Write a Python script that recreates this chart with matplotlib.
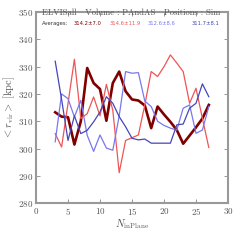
import numpy as np
import matplotlib
matplotlib.use("Agg")
import matplotlib.pyplot as plt

plt.rcParams["font.family"] = "cmr10"
plt.rcParams["mathtext.fontset"] = "cm"
plt.rcParams["axes.formatter.use_mathtext"] = True

# N_inPlane values
n_in_plane = list(range(3, 28))

# mean r_vir per N_inPlane (kpc)
r_dark_red = [313.3, 311.7, 311.5, 301.5, 310.0, 329.5, 324.0, 321.8, 310.2, 324.0,
              328.2, 321.0, 318.0, 317.6, 315.8, 307.5, 315.4, 312.5, 309.8, 306.8,
              301.8, 304.8, 307.8, 311.0, 316.0]
r_light_red = [305.5, 300.6, 316.5, 332.7, 311.0, 312.8, 318.9, 312.0, 323.5, 314.0,
               291.2, 303.0, 304.0, 305.0, 316.0, 328.2, 326.4, 330.0, 334.3, 331.3,
               328.2, 316.6, 322.1, 311.1, 300.4]
r_light_blue = [302.5, 320.0, 318.3, 311.6, 317.7, 304.9, 299.0, 305.0, 300.2, 299.4,
                312.0, 328.2, 327.6, 327.8, 317.4, 315.4, 310.0, 308.5, 307.5, 306.8,
                314.8, 316.0, 305.6, 306.8, 315.4]
r_dark_blue = [332.0, 318.0, 303.0, 312.0, 305.5, 306.7, 309.8, 313.4, 319.0, 316.6,
               311.7, 308.0, 303.8, 303.2, 303.5, 302.0, 302.0, 302.0, 302.0, 308.7,
               309.0, 314.8, 316.6, 323.7, 319.0]

series_colors = ["#800000", "#ee5555", "#7878f0", "#4646b8"]
series_widths = [1.9, 0.9, 0.9, 0.9]
averages = ["314.2\u00b17.0", "314.6\u00b111.9", "312.6\u00b18.6", "311.7\u00b18.1"]

fig = plt.figure(figsize=(2.4, 2.4), dpi=100)
ax = fig.add_axes([0.15, 0.153, 0.80, 0.797])

all_series = [r_dark_red, r_light_red, r_light_blue, r_dark_blue]
for vals, col, lw in zip(all_series, series_colors, series_widths):
    ax.plot(n_in_plane, vals, color=col, lw=lw)

ax.set_xlim(0, 30)
ax.set_ylim(280, 350)
ax.set_xticks(range(0, 31, 5))
ax.set_yticks(range(280, 351, 10))

for s in ax.spines.values():
    s.set_color("#999999")
    s.set_linewidth(1.5)
ax.tick_params(direction="in", top=True, right=True, length=3, width=0.6,
               color="#888888", labelsize=6.5, labelcolor="#555555", pad=2)

ax.set_xlabel(r"$N_{\rm inPlane}$", fontsize=7.5, color="#555555")
ax.xaxis.set_label_coords(0.5, -0.072)
ax.set_ylabel(r"$< r_{\rm vir} >\ [{\rm kpc}]$", fontsize=7.5, color="#555555")
ax.yaxis.set_label_coords(-0.1, 0.5)

fig.text(0.545, 0.945, "ELVISall   Volume : PAndAS   Positions : Sim",
         ha="center", va="center", fontsize=6.2, color="#555555")

ax.text(0.031, 0.941, "Averages:", transform=ax.transAxes, ha="left", va="center",
        fontsize=3.8, family="DejaVu Sans", color="#333333")
avg_x = [0.27, 0.466, 0.656, 0.883]
for xx, txt, col in zip(avg_x, averages, series_colors):
    ax.text(xx, 0.941, txt, transform=ax.transAxes, ha="center", va="center",
            fontsize=3.8, family="DejaVu Sans", color=col)

fig.savefig("out.png", dpi=100)
